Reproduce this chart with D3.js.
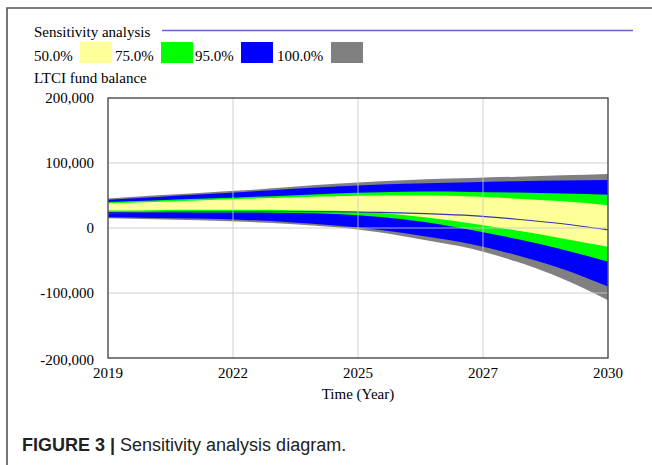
<!DOCTYPE html>
<html>
<head>
<meta charset="utf-8">
<script src="https://cdn.jsdelivr.net/npm/d3@7"></script>
<style>
  html, body { margin: 0; padding: 0; background: #fff; }
  svg { display: block; }
</style>
</head>
<body>
<div id="chart"></div>
<script>
// simulation years and the confidence bounds (thousands)
const years = [2019, 2020, 2021, 2022, 2023, 2024, 2025, 2026, 2027, 2028, 2029, 2030];
const grayHi   = [45.5, 50, 54, 58, 63, 68, 72, 75, 77, 79, 81, 83];
const blueHi   = [43.5, 47.5, 51.5, 55.5, 60, 64, 67, 69, 70.5, 72, 73, 74];
const greenHi  = [40, 42.5, 45, 47.5, 50, 53, 55, 56, 55.5, 54.5, 53, 51];
const yellowHi = [38, 40, 42.5, 45, 47, 49, 50, 50, 48.5, 45, 41, 35];
const yellowLo = [27, 27.5, 28, 28, 27.5, 26.5, 23, 16, 7, -4, -16, -29];
const greenLo  = [24.5, 24.5, 24, 24, 23, 21.5, 17, 9, -3, -17, -33, -52];
const blueLo   = [16.5, 15.5, 14.5, 12.5, 9, 4, -3, -13, -25, -42, -63, -90];
const grayLo   = [15, 13.5, 12, 9.5, 6, 1, -7, -19, -32, -52, -78, -111];
const baseRun  = [23, 24, 25, 25, 25, 25, 24, 22, 19, 13.5, 6.5, -3];

const bandNames = ["50.0%", "75.0%", "95.0%", "100.0%"];
const bandColors = ["#ffff99", "#00ff00", "#0000ff", "#808080"];
const yTicks = [200000, 100000, 0, -100000, -200000];
const xTickLabels = ["2019", "2022", "2025", "2027", "2030"];

class SensitivityChart {
    constructor(containerId) {
        this.width = 652;
        this.height = 465;
        this.plot = { left: 108, right: 608, top: 98, bottom: 358 };
        this.x = d3.scaleLinear().domain([2019, 2030]).range([this.plot.left, this.plot.right]);
        this.y = d3.scaleLinear().domain([-200000, 200000]).range([this.plot.bottom, this.plot.top]);
        this.svg = d3.select(containerId).append("svg")
            .attr("width", this.width)
            .attr("height", this.height);
        this.drawFrame();
        this.drawLegend();
        this.drawBands();
        this.drawAxes();
        this.drawCaption();
    }

    drawFrame() {
        // figure box, only top and left edges show in the crop
        this.svg.append("path")
            .attr("d", `M7,${this.height} L7,8 L${this.width},8`)
            .attr("fill", "none")
            .attr("stroke", "#555")
            .attr("stroke-width", 1.6);
    }

    drawLegend() {
        const g = this.svg.append("g")
            .attr("font-family", "'Liberation Serif', 'Times New Roman', serif")
            .attr("font-size", 15)
            .attr("fill", "#000");

        g.append("text").attr("x", 34).attr("y", 37).text("Sensitivity analysis");
        g.append("line")
            .attr("x1", 162).attr("x2", 633)
            .attr("y1", 30.5).attr("y2", 30.5)
            .attr("stroke", "#6464cc")
            .attr("stroke-width", 1.5);

        const textX = [34, 115, 195, 277];
        const boxX = [80, 161, 241, 331];
        bandNames.forEach((name, i) => {
            g.append("text").attr("x", textX[i]).attr("y", 61).text(name);
            g.append("rect")
                .attr("x", boxX[i]).attr("y", 42)
                .attr("width", 32).attr("height", 21)
                .attr("fill", bandColors[i]);
        });

        g.append("text").attr("x", 34).attr("y", 83).text("LTCI fund balance");
    }

    drawBands() {
        const rows = years.map((yr, i) => ({
            year: yr,
            gH: grayHi[i] * 1000, gL: grayLo[i] * 1000,
            bH: blueHi[i] * 1000, bL: blueLo[i] * 1000,
            nH: greenHi[i] * 1000, nL: greenLo[i] * 1000,
            yH: yellowHi[i] * 1000, yL: yellowLo[i] * 1000,
            base: baseRun[i] * 1000
        }));

        const bands = [
            { hi: "gH", lo: "gL", color: bandColors[3] },
            { hi: "bH", lo: "bL", color: bandColors[2] },
            { hi: "nH", lo: "nL", color: bandColors[1] },
            { hi: "yH", lo: "yL", color: bandColors[0] }
        ];

        bands.forEach(b => {
            const area = d3.area()
                .curve(d3.curveMonotoneX)
                .x(d => this.x(d.year))
                .y0(d => this.y(d[b.lo]))
                .y1(d => this.y(d[b.hi]));
            this.svg.append("path")
                .datum(rows)
                .attr("fill", b.color)
                .attr("d", area);
        });

        const line = d3.line()
            .curve(d3.curveMonotoneX)
            .x(d => this.x(d.year))
            .y(d => this.y(d.base));
        this.svg.append("path")
            .datum(rows)
            .attr("fill", "none")
            .attr("stroke", "#3535b0")
            .attr("stroke-width", 1.2)
            .attr("d", line);
    }

    drawAxes() {
        const xTicks = d3.range(5).map(i => 2019 + i * 2.75);
        const grid = this.svg.append("g")
            .attr("stroke", "#c8c8c8")
            .attr("stroke-opacity", 0.85)
            .attr("stroke-width", 1);

        grid.selectAll("line.vx")
            .data(xTicks.slice(1, -1))
            .enter().append("line")
            .attr("x1", d => this.x(d)).attr("x2", d => this.x(d))
            .attr("y1", this.plot.top).attr("y2", this.plot.bottom);

        grid.selectAll("line.hy")
            .data(yTicks.slice(1, -1))
            .enter().append("line")
            .attr("x1", this.plot.left).attr("x2", this.plot.right)
            .attr("y1", d => this.y(d)).attr("y2", d => this.y(d));

        this.svg.append("rect")
            .attr("x", this.plot.left).attr("y", this.plot.top)
            .attr("width", this.plot.right - this.plot.left)
            .attr("height", this.plot.bottom - this.plot.top)
            .attr("fill", "none")
            .attr("stroke", "#555")
            .attr("stroke-width", 1.5);

        const labels = this.svg.append("g")
            .attr("font-family", "'Liberation Serif', 'Times New Roman', serif")
            .attr("font-size", 15)
            .attr("fill", "#000");

        // Vensim prints a plain hyphen for negatives
        const fmt = d => d3.format(",")(d).replace("\u2212", "-");
        labels.selectAll("text.yl")
            .data(yTicks)
            .enter().append("text")
            .attr("x", 94)
            .attr("y", d => this.y(d) + (d === -200000 ? 7 : 5))
            .attr("text-anchor", "end")
            .text(d => fmt(d));

        labels.selectAll("text.xl")
            .data(xTicks)
            .enter().append("text")
            .attr("x", d => this.x(d))
            .attr("y", 378)
            .attr("text-anchor", "middle")
            .text((d, i) => xTickLabels[i]);

        labels.append("text")
            .attr("x", (this.plot.left + this.plot.right) / 2)
            .attr("y", 399)
            .attr("text-anchor", "middle")
            .text("Time (Year)");
    }

    drawCaption() {
        const cap = this.svg.append("text")
            .attr("x", 22)
            .attr("y", 451)
            .attr("font-family", "'Liberation Sans', Arial, sans-serif")
            .attr("font-size", 18)
            .attr("fill", "#222");
        cap.append("tspan").attr("font-weight", "bold").text("FIGURE 3 | ");
        cap.append("tspan").text("Sensitivity analysis diagram.");
    }
}

const sensitivityChart = new SensitivityChart("#chart");
</script>
</body>
</html>
